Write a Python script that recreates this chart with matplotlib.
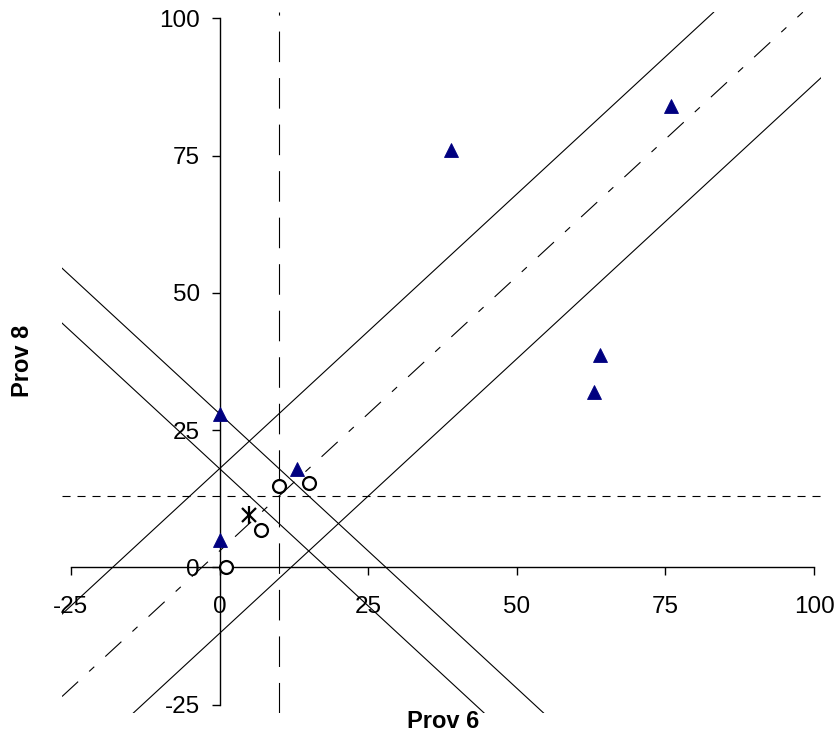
#!/usr/bin/env python3
# Scatter of Prov 6 vs Prov 8 with reference lines

import matplotlib
matplotlib.use("Agg")
import matplotlib.pyplot as plt

# ── data ───────────────────────────────────────────────
tri_x = [0, 0, 13, 39, 76, 64, 63]
tri_y = [28, 5, 18, 76, 84, 38.6, 32]

circ_x = [1, 7, 10, 15]
circ_y = [0, 6.9, 14.9, 15.3]

star_x = [5]
star_y = [9.6]

diag_solid = [18, -12]      # y = x + c
diag_dashdot = [3]          # y = x + c
anti_solid = [28, 18]       # y = -x + c
vline_x = 10
hline_y = 13

ticks = [-25, 0, 25, 50, 75, 100]

# ── plot ───────────────────────────────────────────────
plt.rcParams["font.family"] = ["Liberation Sans", "DejaVu Sans"]
plt.rcParams["lines.scale_dashes"] = False
plt.rcParams["axes.unicode_minus"] = False

fig = plt.figure(figsize=(8.38, 7.33), dpi=100)
ax = fig.add_axes([0.074, 0.0273, 0.906, 0.956])

ax.set_xlim(-26.5, 101.2)
ax.set_ylim(-26.5, 101.1)

lw = 0.8
for c in diag_solid:
    ax.axline((0, c), slope=1, color="black", lw=lw, zorder=2)
for c in diag_dashdot:
    ax.axline((0, c), slope=1, color="black", lw=lw, zorder=2,
              dashes=(15.8, 10.8, 5, 10.8))
for c in anti_solid:
    ax.axline((0, c), slope=-1, color="black", lw=lw, zorder=2)
ax.axvline(vline_x, color="black", lw=lw, dashes=(22, 11.5), zorder=2)
ax.axhline(hline_y, color="black", lw=lw, dashes=(5.8, 5), zorder=2)

ax.plot(tri_x, tri_y, ls="none", marker="^", ms=10.5, color="#000080",
        mec="#000080", mew=0.6, zorder=4)
ax.plot(circ_x, circ_y, ls="none", marker="o", ms=9.3, mfc="white",
        mec="black", mew=1.6, zorder=4)
ax.plot(star_x, star_y, ls="none", marker="x", ms=10, color="black",
        mew=1.6, zorder=4)
ax.plot(star_x, star_y, ls="none", marker="|", ms=13, color="black",
        mew=1.6, zorder=4)

# axes through the origin
for s in ["top", "right"]:
    ax.spines[s].set_visible(False)
ax.spines["left"].set_position(("data", 0))
ax.spines["bottom"].set_position(("data", 0))
ax.spines["left"].set_bounds(-25, 100)
ax.spines["bottom"].set_bounds(-25, 100)
for s in ["left", "bottom"]:
    ax.spines[s].set_linewidth(1.0)
    ax.spines[s].set_zorder(3)

ax.set_xticks(ticks)
ax.set_yticks(ticks)
ax.tick_params(axis="both", direction="out", length=5.5, width=1.0,
               labelsize=17.5)
ax.tick_params(axis="x", pad=15)
ax.tick_params(axis="y", pad=8.5)

fig.text(0.529, 0.016, "Prov 6", ha="center", va="center",
         fontsize=17, fontweight="bold")
fig.text(0.027, 0.507, "Prov 8", ha="center", va="center",
         fontsize=17, fontweight="bold", rotation=90)

fig.savefig("out.png", dpi=100)
